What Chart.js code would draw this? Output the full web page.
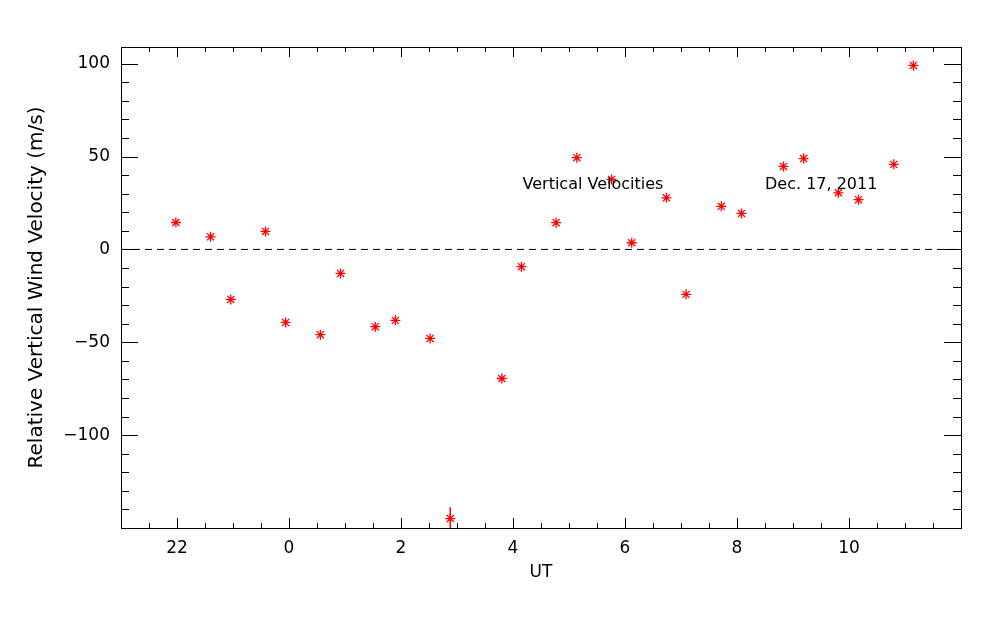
<!DOCTYPE html>
<html>
<head>
<meta charset="utf-8">
<script src="https://cdn.jsdelivr.net/npm/chart.js@4"></script>
<style>
  html, body { margin: 0; padding: 0; background: #fff; }
  #wrap { width: 1000px; height: 625px; }
</style>
</head>
<body>
<div id="wrap"><canvas id="windChart" width="1000" height="625"></canvas></div>
<script>
// UT hours (22 -> -2, 23 -> -1 so the night crosses midnight continuously)
const utHours = [-2.02, -1.40, -1.04, -0.42, -0.06, 0.56, 0.92, 1.54, 1.90, 2.52,
                 2.88, 3.80, 4.15, 4.77, 5.14, 5.76, 6.12, 6.74, 7.09, 7.72,
                 8.08, 8.83, 9.19, 9.81, 10.17, 10.80, 11.15];
const velocities = [14.5, 6.8, -26.9, 9.7, -39.3, -45.9, -12.9, -41.6, -38.2, -47.9,
                    -144.9, -69.5, -9.3, 14.4, 49.4, 37.7, 3.6, 27.8, -24.2, 23.2,
                    19.4, 44.7, 48.9, 30.5, 26.8, 45.8, 99.1];
// the short red bar sticking up from the lowest point
const lowBarX = [2.88, 2.88];
const lowBarY = [-138.8, -150];

const xTicks = [-2, 0, 2, 4, 6, 8, 10];
const yTicks = [-100, -50, 0, 50, 100];
const xRange = [-3, 12];
const yRange = [-150, 109];

const notes = [
    { text: 'Vertical Velocities', x: 4.17, y: 32.3 },
    { text: 'Dec. 17, 2011', x: 8.5, y: 32.3 }
];

const FONT = '"DejaVu Sans", sans-serif';

function hourLabel(v) {
    return v < 0 ? String(v + 24) : String(v);
}

function velLabel(v) {
    return v < 0 ? '\u2212' + Math.abs(v) : String(v);
}

// box, inward ticks on all four sides, and the text notes
const frame = {
    id: 'frame',
    afterDatasetsDraw(chart) {
        const ctx = chart.ctx;
        const a = chart.chartArea;
        const xs = chart.scales.x;
        const ys = chart.scales.y;
        ctx.save();
        ctx.strokeStyle = '#000';
        ctx.lineWidth = 1;
        ctx.beginPath();
        // x ticks, minor every 0.5 h
        for (let v = xRange[0]; v <= xRange[1] + 1e-9; v += 0.5) {
            const px = Math.round(xs.getPixelForValue(v)) + 0.5;
            const len = (Math.abs(v % 2) < 1e-9) ? 10 : 5;
            ctx.moveTo(px, a.bottom); ctx.lineTo(px, a.bottom - len);
            ctx.moveTo(px, a.top); ctx.lineTo(px, a.top + len);
        }
        // y ticks, minor every 10 m/s
        for (let v = -150; v <= yRange[1] + 1e-9; v += 10) {
            const py = Math.round(ys.getPixelForValue(v)) + 0.5;
            const len = (Math.abs(v % 50) < 1e-9) ? 17 : 8;
            ctx.moveTo(a.left, py); ctx.lineTo(a.left + len, py);
            ctx.moveTo(a.right, py); ctx.lineTo(a.right - len, py);
        }
        ctx.stroke();
        ctx.strokeRect(Math.round(a.left) + 0.5, Math.round(a.top) + 0.5,
                       Math.round(a.right - a.left), Math.round(a.bottom - a.top));

        ctx.fillStyle = '#000';
        ctx.font = '16px ' + FONT;
        ctx.textBaseline = 'alphabetic';
        ctx.textAlign = 'left';
        notes.forEach(n => {
            ctx.fillText(n.text, xs.getPixelForValue(n.x), ys.getPixelForValue(n.y));
        });
        ctx.restore();
    }
};

const ctx = document.getElementById('windChart').getContext('2d');
new Chart(ctx, {
    type: 'scatter',
    data: {
        datasets: [
            {
                label: 'zero',
                data: xRange.map(x => ({ x: x, y: 0 })),
                showLine: true,
                borderColor: '#000',
                borderWidth: 1,
                borderDash: [7, 5],
                pointRadius: 0
            },
            {
                label: 'bar',
                data: lowBarX.map((x, i) => ({ x: x, y: lowBarY[i] })),
                showLine: true,
                borderColor: '#ff0000',
                borderWidth: 1.5,
                pointRadius: 0
            },
            {
                label: 'Vertical Velocities',
                data: utHours.map((x, i) => ({ x: x, y: velocities[i] })),
                pointStyle: 'star',
                pointRadius: 5,
                borderColor: '#ff0000',
                backgroundColor: '#ff0000',
                borderWidth: 1.3
            }
        ]
    },
    options: {
        responsive: false,
        animation: false,
        layout: { padding: { top: 47, right: 39, left: 0, bottom: 0 } },
        plugins: {
            legend: { display: false },
            tooltip: { enabled: false }
        },
        scales: {
            x: {
                type: 'linear',
                min: xRange[0],
                max: xRange[1],
                grid: { display: false, drawTicks: false, tickLength: 0 },
                border: { display: false },
                afterBuildTicks: s => { s.ticks = xTicks.map(v => ({ value: v })); },
                afterFit: s => { s.height = 97; },
                ticks: {
                    padding: 10,
                    color: '#000',
                    font: { family: FONT, size: 17 },
                    maxRotation: 0,
                    callback: v => hourLabel(v)
                },
                title: {
                    display: true,
                    text: 'UT',
                    color: '#000',
                    font: { family: FONT, size: 17 },
                    padding: { top: 0, bottom: 42 }
                }
            },
            y: {
                type: 'linear',
                min: yRange[0],
                max: yRange[1],
                grid: { display: false, drawTicks: false, tickLength: 0 },
                border: { display: false },
                afterBuildTicks: s => { s.ticks = yTicks.map(v => ({ value: v })); },
                afterFit: s => { s.width = 121; },
                ticks: {
                    padding: 11,
                    color: '#000',
                    font: { family: FONT, size: 17 },
                    callback: v => velLabel(v)
                },
                title: {
                    display: true,
                    text: 'Relative Vertical Wind Velocity (m/s)',
                    color: '#000',
                    font: { family: FONT, size: 20 },
                    padding: { top: 25, bottom: 0 }
                }
            }
        }
    },
    plugins: [frame]
});
</script>
</body>
</html>
